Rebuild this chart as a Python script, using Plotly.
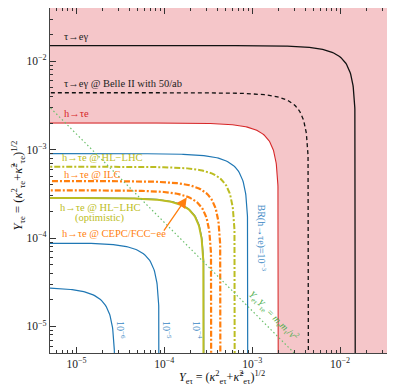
import numpy as np
import plotly.graph_objects as go

# ---- data ----
x_range_log = [-5.301, -1.398]          # 5e-6 .. 4e-2
y_range_log = [-5.301, -1.398]
tau_eg_r = 1.5e-2                        # tau -> e gamma bound (radius)
belle2_r = 4.4e-3                        # Belle II 50/ab projection
h_te_r = 2.0e-3                          # h -> tau e current limit
br_values = ["10<sup>−6</sup>", "10<sup>−5</sup>", "10<sup>−4</sup>", "10<sup>−3</sup>"]
br_radii = [2.75e-5, 8.8e-5, 2.85e-4, 9.0e-4]
hllhc_r = 6.4e-4
ilc_r = 4.4e-4
cepc_r = 3.46e-4
hllhc_opt_r = 2.83e-4
natural_product = 1.5e-8                 # m_e m_tau / v^2
major_ticks = [1e-5, 1e-4, 1e-3, 1e-2]
major_text = ["10<sup>−5</sup>", "10<sup>−4</sup>", "10<sup>−3</sup>", "10<sup>−2</sup>"]

# ---- helpers ----
def circle(r):
    t1 = np.logspace(-6, np.log10(np.pi / 4), 300)
    t = np.concatenate([t1, np.pi / 2 - t1[::-1]])
    return r * np.cos(t), r * np.sin(t)

def lx(px):
    return -5.301 + (px - 50) / 88.0

def ly(py):
    return -1.398 - (py - 7) / 88.7

FONT = "Liberation Serif"
RED = "#d62728"
BLUE = "#1f77b4"
OLIVE = "#bcbd22"
ORANGE = "#ff7f0e"
GREEN = "#5cb85c"
PINK = "#f5c6c9"

fig = go.Figure()

# shaded excluded region outside the h->tau e circle
cx, cy = circle(h_te_r)
px_ = np.concatenate([cx[::-1], [1.0, 1.0, 1e-7]])
py_ = np.concatenate([cy[::-1], [1e-7, 1.0, 1.0]])
fig.add_trace(go.Scatter(x=px_, y=py_, fill="toself", fillcolor=PINK,
                         line=dict(width=0), mode="lines", hoverinfo="skip"))

def add_curve(r, color, width, dash="solid"):
    x, y = circle(r)
    fig.add_trace(go.Scatter(x=x, y=y, mode="lines",
                             line=dict(color=color, width=width, dash=dash)))

add_curve(tau_eg_r, "#111111", 1.3)
add_curve(belle2_r, "#111111", 1.3, "4px,3px")
add_curve(h_te_r, RED, 1.1)
for r in br_radii:
    add_curve(r, BLUE, 1.2)
add_curve(hllhc_r, OLIVE, 2.0, "6px,2px,2px,2px")
add_curve(ilc_r, ORANGE, 2.2, "6px,2px,2px,2px")
add_curve(cepc_r, ORANGE, 2.2, "6px,2px,2px,2px")
add_curve(hllhc_opt_r, OLIVE, 2.0)

# natural line Y_etau * Y_taue = m_e m_tau / v^2
xn = np.logspace(-6, -1, 50)
fig.add_trace(go.Scatter(x=xn, y=natural_product / xn, mode="lines",
                         line=dict(color="#6cc06c", width=1.2, dash="1.5px,2.5px")))

ann = []
def label(text, x, y, color, xanchor="left", angle=0, size=10.5):
    ann.append(dict(x=x, y=y, xref="x", yref="y", text=text, showarrow=False,
                    xanchor=xanchor, yanchor="middle", textangle=angle,
                    font=dict(family=FONT, size=size, color=color)))

label("τ→eγ", lx(62), ly(36), "#222222")
label("τ→eγ @ Belle II with 50/ab", lx(62), ly(83), "#222222")
label("h→τe", lx(62), ly(113), RED)
label("h→τe @ HL−LHC", lx(60), ly(157), OLIVE)
label("h→τe @ ILC", lx(62), ly(174), ORANGE)
label("h→τe @ HL−LHC", lx(100), ly(207), OLIVE, xanchor="center")
label("(optimistic)", lx(100), ly(218), OLIVE, xanchor="center")
label("h→τe @ CEPC/FCC−ee", lx(60), ly(233), ORANGE)
label("BR(h→τe)=10<sup>−3</sup>", lx(262), ly(238), "#3a87c4", xanchor="center", angle=90, size=10)
label(br_values[0], lx(121), ly(330), "#3a87c4", xanchor="center", angle=90, size=10)
label(br_values[1], lx(167), ly(330), "#3a87c4", xanchor="center", angle=90, size=10)
label(br_values[2], lx(198), ly(330), "#3a87c4", xanchor="center", angle=90, size=10)
label("<i>Y</i><sub>eτ</sub><i>Y</i><sub>τe</sub> = <i>m</i><sub>e</sub><i>m</i><sub>τ</sub>/<i>v</i><sup>2</sup>",
      lx(274), ly(316), "#4cae4c", xanchor="center", angle=45, size=10)

# arrow to CEPC curve
ann.append(dict(x=np.log10(1.8e-4), y=np.log10(2.88e-4), ax=lx(163), ay=ly(232),
                xref="x", yref="y", axref="x", ayref="y", text="", showarrow=True,
                arrowhead=2, arrowsize=1.6, arrowwidth=1.3, arrowcolor=ORANGE))

# axis titles
ann.append(dict(x=0.5, y=-0.072, xref="paper", yref="paper", showarrow=False,
                xanchor="center", yanchor="middle",
                text="<i>Y</i><sub>eτ</sub> = (<i>κ</i><sup>2</sup><sub>eτ</sub>+<i>κ̃</i><sup>2</sup><sub>eτ</sub>)<sup>1/2</sup>",
                font=dict(family=FONT, size=12, color="#111111")))
ann.append(dict(x=-0.093, y=0.486, xref="paper", yref="paper", showarrow=False,
                xanchor="center", yanchor="middle", textangle=-90,
                text="<i>Y</i><sub>τe</sub> = (<i>κ</i><sup>2</sup><sub>τe</sub>+<i>κ̃</i><sup>2</sup><sub>τe</sub>)<sup>1/2</sup>",
                font=dict(family=FONT, size=12.5, color="#111111")))

minor_vals = [m * 10.0 ** e for e in range(-6, 0) for m in range(2, 10)]

axis_common = dict(type="log", showgrid=False, zeroline=False, automargin=False,
                   showline=True, linecolor="#444444", linewidth=1.2, mirror="ticks",
                   ticks="inside", ticklen=6, tickwidth=1, tickcolor="#333333",
                   tickmode="array", tickvals=major_ticks, ticktext=major_text,
                   tickfont=dict(family=FONT, size=11.5, color="#222222"),
                   minor=dict(ticks="inside", ticklen=3, tickwidth=0.8, tickcolor="#333333",
                              tickmode="array", tickvals=minor_vals, showgrid=False))

# page body has an 8px margin: offset the figure margins so the plot area
# lands where the reference has it
fig.update_layout(
    width=395, height=385,
    margin=dict(l=42, r=10, t=0, b=40),
    paper_bgcolor="white", plot_bgcolor="white",
    showlegend=False,
    xaxis=dict(range=x_range_log, ticklabelstandoff=0, **axis_common),
    yaxis=dict(range=y_range_log, **axis_common),
    annotations=ann,
)

fig.write_html("out.html")
